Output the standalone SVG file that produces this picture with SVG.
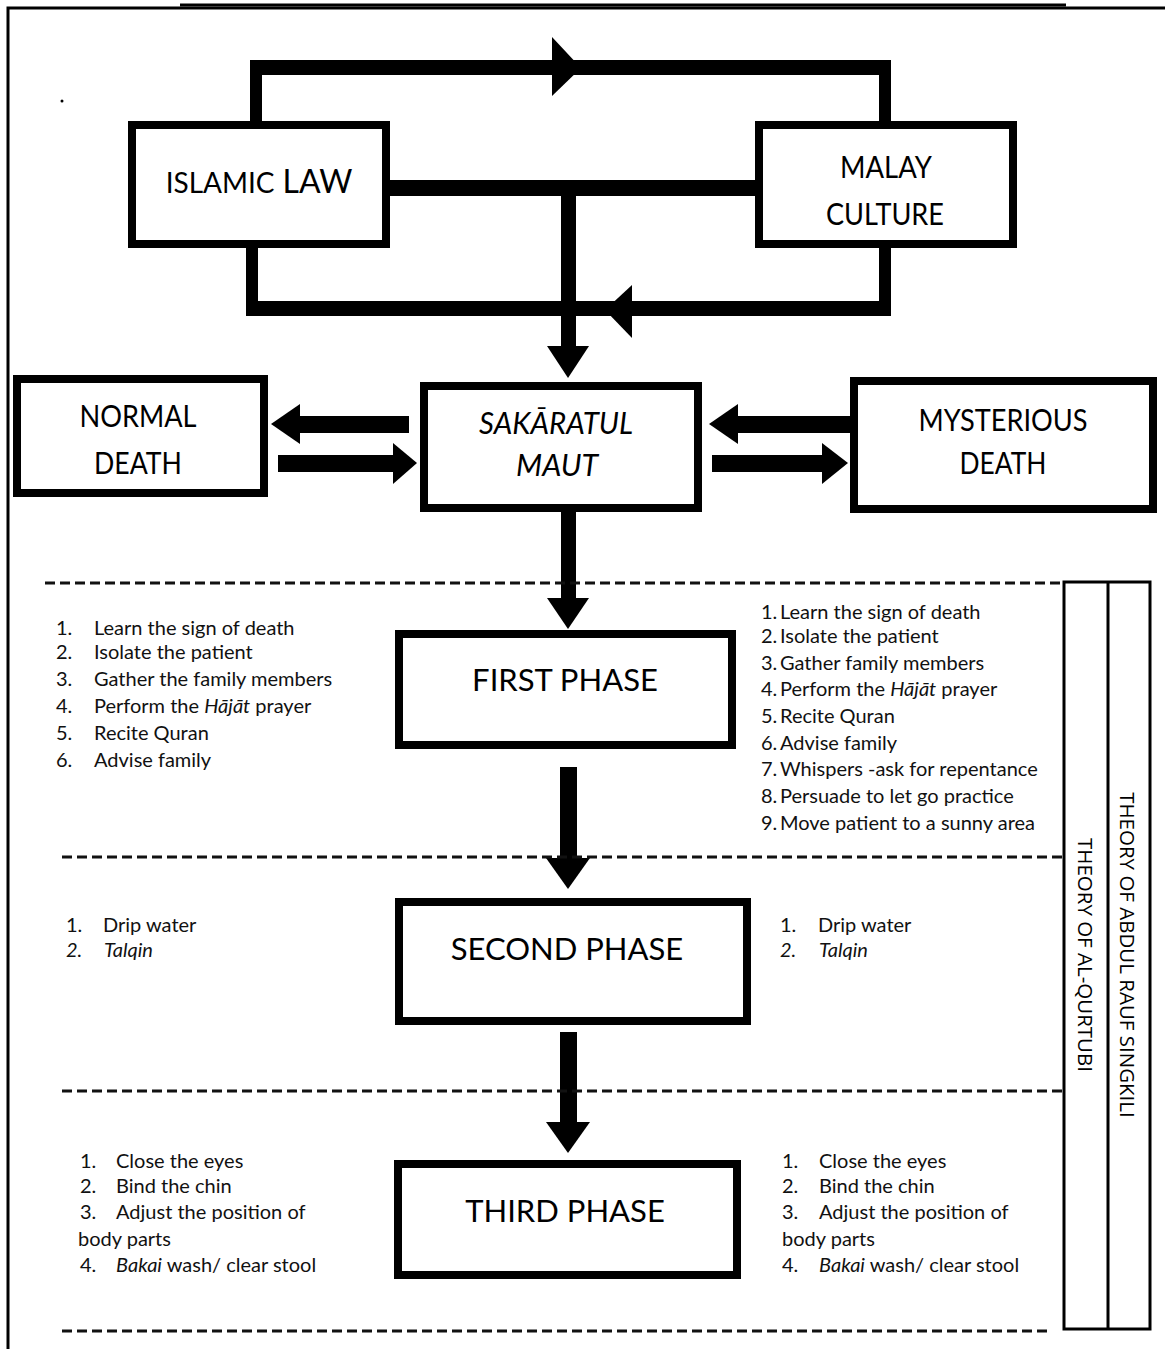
<svg xmlns="http://www.w3.org/2000/svg" width="1165" height="1349" viewBox="0 0 1165 1349">
<style>
.box{fill:#fff;stroke:#000;stroke-width:8}
.lbl{font-family:Lato,"Open Sans",sans-serif;font-size:31px;fill:#000;text-anchor:middle}
.li{font-family:Lato,"Open Sans",sans-serif;font-size:20px;fill:#111}
.li2{font-family:Lato,"Open Sans",sans-serif;font-size:20px;fill:#111}
.th{font-family:"Open Sans",sans-serif;font-size:20.5px;fill:#000;text-anchor:middle}
.dash{stroke:#111;stroke-width:3;stroke-dasharray:10 5;fill:none}
.bar{fill:#000}
</style>
<rect width="1165" height="1349" fill="#fff"/>
<!-- frame -->
<g id="frame" fill="none" stroke="#000">
<line x1="180" y1="5" x2="1066" y2="5" stroke-width="3"/>
<polyline points="8,1349 8,8 1165,8" stroke-width="3"/>
<circle cx="62" cy="101" r="1.5" fill="#000" stroke="none"/>
</g>
<!-- connectors -->
<g id="connectors">
<!-- top loop -->
<rect class="bar" x="250" y="60" width="12" height="62"/>
<rect class="bar" x="879" y="60" width="12" height="62"/>
<rect class="bar" x="250" y="60" width="641" height="15"/>
<polygon class="bar" points="552,37 581,68 552,96"/>
<!-- bottom loop -->
<rect class="bar" x="246" y="247" width="12" height="68"/>
<rect class="bar" x="879" y="247" width="12" height="68"/>
<rect class="bar" x="246" y="301" width="645" height="15"/>
<polygon class="bar" points="632,285 605,310 632,338"/>
<!-- middle -->
<rect class="bar" x="388" y="180" width="368" height="16"/>
<rect class="bar" x="561" y="190" width="15" height="157"/>
<polygon class="bar" points="547,346 589,346 568,378"/>
<!-- side arrows left -->
<rect class="bar" x="298" y="416" width="111" height="17"/>
<polygon class="bar" points="300,404 300,444 271,424"/>
<rect class="bar" x="278" y="455" width="117" height="17"/>
<polygon class="bar" points="393,443 393,484 417,463"/>
<!-- side arrows right -->
<rect class="bar" x="736" y="416" width="115" height="17"/>
<polygon class="bar" points="738,404 738,444 709,424"/>
<rect class="bar" x="712" y="455" width="112" height="17"/>
<polygon class="bar" points="822,443 822,484 848,463"/>
<!-- down arrows -->
<rect class="bar" x="561" y="508" width="15" height="92"/>
<polygon class="bar" points="547,598 589,598 568,629"/>
<rect class="bar" x="560" y="767" width="17" height="93"/>
<polygon class="bar" points="546,858 590,858 568,889"/>
<rect class="bar" x="560" y="1032" width="17" height="92"/>
<polygon class="bar" points="546,1122 590,1122 568,1153"/>
<!-- dashed separators -->
<line class="dash" x1="45" y1="583" x2="1062" y2="583"/>
<line class="dash" x1="62" y1="857" x2="1062" y2="857"/>
<line class="dash" x1="62" y1="1091" x2="1062" y2="1091"/>
<line class="dash" x1="62" y1="1331" x2="1050" y2="1331"/>
</g>
<!-- nodes -->
<g id="islamic-law">
<rect class="box" x="132" y="125" width="254" height="119"/>
<text class="lbl" x="259" y="193"><tspan font-size="28">ISLAMIC</tspan> <tspan font-size="32">LAW</tspan></text>
</g>
<g id="malay-culture">
<rect class="box" x="759" y="125" width="254" height="119"/>
<text class="lbl" x="886" y="178" font-size="28" textLength="92" lengthAdjust="spacingAndGlyphs">MALAY</text>
<text class="lbl" x="885" y="225" font-size="28" textLength="118" lengthAdjust="spacingAndGlyphs">CULTURE</text>
</g>
<g id="normal-death">
<rect class="box" x="17" y="379" width="247" height="114"/>
<text class="lbl" x="138" y="427" font-size="28" textLength="117" lengthAdjust="spacingAndGlyphs">NORMAL</text>
<text class="lbl" x="138" y="474" font-size="28" textLength="88" lengthAdjust="spacingAndGlyphs">DEATH</text>
</g>
<g id="sakaratul-maut">
<rect class="box" x="424" y="386" width="274" height="122"/>
<text class="lbl" x="556" y="434" font-size="28" font-style="italic" textLength="154" lengthAdjust="spacingAndGlyphs">SAKĀRATUL</text>
<text class="lbl" x="557" y="476" font-size="28" font-style="italic" textLength="82" lengthAdjust="spacingAndGlyphs">MAUT</text>
</g>
<g id="mysterious-death">
<rect class="box" x="854" y="381" width="299" height="128"/>
<text class="lbl" x="1003" y="431" font-size="28" textLength="169" lengthAdjust="spacingAndGlyphs">MYSTERIOUS</text>
<text class="lbl" x="1003" y="474" font-size="28" textLength="87" lengthAdjust="spacingAndGlyphs">DEATH</text>
</g>
<g id="first-phase">
<rect class="box" x="399" y="634" width="333" height="111"/>
<text class="lbl" x="565" y="691">FIRST PHASE</text>
</g>
<g id="second-phase">
<rect class="box" x="399" y="902" width="348" height="119"/>
<text class="lbl" x="567" y="960">SECOND PHASE</text>
</g>
<g id="third-phase">
<rect class="box" x="398" y="1164" width="339" height="111"/>
<text class="lbl" x="565" y="1222">THIRD PHASE</text>
</g>
<!-- theory columns -->
<g id="theories">
<rect x="1064" y="582" width="86" height="747" fill="none" stroke="#000" stroke-width="3"/>
<line x1="1108" y1="582" x2="1108" y2="1329" stroke="#000" stroke-width="3"/>
<text class="th" transform="translate(1120 955) rotate(90)">THEORY OF ABDUL RAUF SINGKILI</text>
<text class="th" transform="translate(1078 955) rotate(90)" font-size="21px">THEORY OF AL-QURTUBI</text>
</g>
<!-- lists -->
<g id="list-first-left" class="li">
<text x="56" y="635">1.</text><text x="94" y="635">Learn the sign of death</text>
<text x="56" y="659">2.</text><text x="94" y="659">Isolate the patient</text>
<text x="56" y="686">3.</text><text x="94" y="686">Gather the family members</text>
<text x="56" y="713">4.</text><text x="94" y="713">Perform the <tspan font-style="italic">Hājāt</tspan> prayer</text>
<text x="56" y="740">5.</text><text x="94" y="740">Recite Quran</text>
<text x="56" y="767">6.</text><text x="94" y="767">Advise family</text>
</g>
<g id="list-first-right" class="li">
<text x="761" y="619">1.</text><text x="780" y="619">Learn the sign of death</text>
<text x="761" y="643">2.</text><text x="780" y="643">Isolate the patient</text>
<text x="761" y="670">3.</text><text x="780" y="670">Gather family members</text>
<text x="761" y="696">4.</text><text x="780" y="696">Perform the <tspan font-style="italic">Hājāt</tspan> prayer</text>
<text x="761" y="723">5.</text><text x="780" y="723">Recite Quran</text>
<text x="761" y="750">6.</text><text x="780" y="750">Advise family</text>
<text x="761" y="776">7.</text><text x="780" y="776">Whispers -ask for repentance</text>
<text x="761" y="803">8.</text><text x="780" y="803">Persuade to let go practice</text>
<text x="761" y="830">9.</text><text x="780" y="830">Move patient to a sunny area</text>
</g>
<g id="list-second-left" class="li2">
<text x="66" y="932">1.</text><text x="103" y="932">Drip water</text>
<text x="66" y="957" font-style="italic">2.</text><text x="104" y="957" font-style="italic">Talqin</text>
</g>
<g id="list-second-right" class="li2">
<text x="780" y="932">1.</text><text x="818" y="932">Drip water</text>
<text x="780" y="957" font-style="italic">2.</text><text x="819" y="957" font-style="italic">Talqin</text>
</g>
<g id="list-third-left" class="li2">
<text x="80" y="1168">1.</text><text x="116" y="1168">Close the eyes</text>
<text x="80" y="1193">2.</text><text x="116" y="1193">Bind the chin</text>
<text x="80" y="1219">3.</text><text x="116" y="1219">Adjust the position of</text>
<text x="78" y="1246">body parts</text>
<text x="80" y="1272">4.</text><text x="116" y="1272"><tspan font-style="italic">Bakai</tspan> wash/ clear stool</text>
</g>
<g id="list-third-right" class="li2">
<text x="782" y="1168">1.</text><text x="819" y="1168">Close the eyes</text>
<text x="782" y="1193">2.</text><text x="819" y="1193">Bind the chin</text>
<text x="782" y="1219">3.</text><text x="819" y="1219">Adjust the position of</text>
<text x="782" y="1246">body parts</text>
<text x="782" y="1272">4.</text><text x="819" y="1272"><tspan font-style="italic">Bakai</tspan> wash/ clear stool</text>
</g>
</svg>
